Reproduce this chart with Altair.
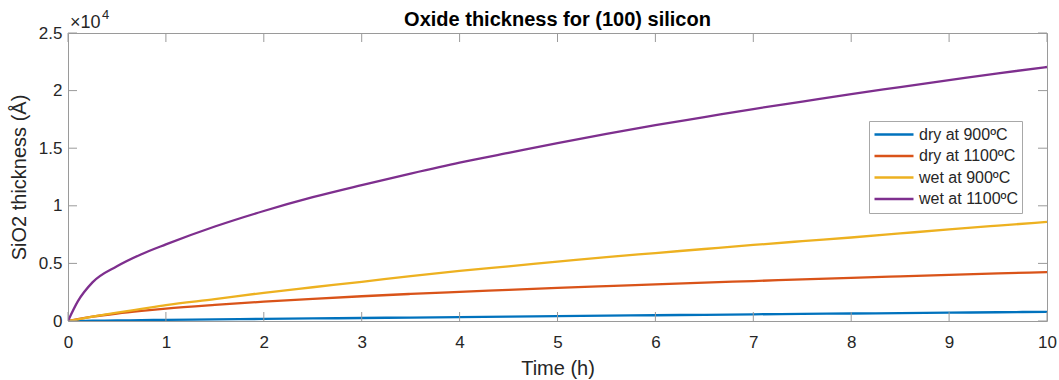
import altair as alt
import pandas as pd

# ---- data (thickness in units of 10^4 Å) ----
time_h = [0, 0.1, 0.25, 0.5, 0.75, 1, 1.5, 2, 2.5, 3, 3.5, 4, 4.5, 5,
          5.5, 6, 6.5, 7, 7.5, 8, 8.5, 9, 9.5, 10]
dry_900 = [0, 0.001, 0.0025, 0.005, 0.0075, 0.010, 0.014, 0.018, 0.022, 0.026,
           0.030, 0.034, 0.038, 0.042, 0.046, 0.050, 0.054, 0.058, 0.062, 0.065,
           0.069, 0.072, 0.076, 0.080]
dry_1100 = [0, 0.016, 0.037, 0.065, 0.088, 0.108, 0.140, 0.168, 0.192, 0.215,
            0.235, 0.253, 0.270, 0.287, 0.303, 0.318, 0.333, 0.347, 0.361, 0.375,
            0.388, 0.400, 0.413, 0.425]
wet_900 = [0, 0.015, 0.037, 0.072, 0.105, 0.138, 0.190, 0.245, 0.293, 0.340,
           0.390, 0.435, 0.475, 0.515, 0.555, 0.590, 0.625, 0.660, 0.693, 0.725,
           0.760, 0.795, 0.828, 0.860]
wet_1100 = [0, 0.170, 0.335, 0.475, 0.580, 0.665, 0.820, 0.955, 1.075, 1.180,
            1.280, 1.375, 1.460, 1.545, 1.625, 1.700, 1.770, 1.840, 1.905, 1.970,
            2.030, 2.090, 2.150, 2.205]

series_names = ["dry at 900ºC", "dry at 1100ºC", "wet at 900ºC", "wet at 1100ºC"]
series_colors = ["#0072BD", "#D95319", "#EDB120", "#7E2F8E"]
x_ticks = [0, 1, 2, 3, 4, 5, 6, 7, 8, 9, 10]
y_ticks = [0, 0.5, 1, 1.5, 2, 2.5]
title_text = "Oxide thickness for (100) silicon"

rows = []
for name, vals in zip(series_names, [dry_900, dry_1100, wet_900, wet_1100]):
    for t, v in zip(time_h, vals):
        rows.append({"time": t, "thickness": v, "series": name})
df = pd.DataFrame(rows)

# ---- layout ----
W, H = 979, 288
XMIN, XMAX = 0, 10
YMIN, YMAX = 0, 2.5
TICK_PX = 9
dx = TICK_PX / W * (XMAX - XMIN)
dy = TICK_PX / H * (YMAX - YMIN)
FONT = "Liberation Sans"
TXT = "#262626"
AXC = "#9a9a9a"

xs = alt.Scale(domain=[XMIN, XMAX], nice=False, zero=False)
ys = alt.Scale(domain=[YMIN, YMAX], nice=False, zero=False)

x_axis = alt.Axis(values=x_ticks, format="d", title="Time (h)",
                  labelFontSize=17, labelColor=TXT, labelFont=FONT,
                  labelPadding=13, labelFlush=False, ticks=False, domain=False,
                  grid=False, titleFontSize=20, titleFont=FONT,
                  titleFontWeight="normal", titleColor=TXT,
                  titleY=53, titleBaseline="alphabetic")
y_axis = alt.Axis(values=y_ticks, format=".1~f", title="SiO2 thickness (Å)",
                  labelFontSize=17, labelColor=TXT, labelFont=FONT,
                  labelPadding=6, labelFlush=False, ticks=False, domain=False,
                  grid=False, titleFontSize=20, titleFont=FONT,
                  titleFontWeight="normal", titleColor=TXT,
                  titleX=-43, titleY=H / 2, titleAngle=270,
                  titleBaseline="alphabetic")

lines = alt.Chart(df).mark_line(strokeWidth=2.3, clip=True, interpolate="monotone").encode(
    x=alt.X("time:Q", scale=xs, axis=x_axis),
    y=alt.Y("thickness:Q", scale=ys, axis=y_axis),
    color=alt.Color("series:N",
                    scale=alt.Scale(domain=series_names, range=series_colors),
                    sort=series_names,
                    legend=alt.Legend(title=None, orient="none", legendX=801, legendY=88,
                                      direction="vertical", symbolType="stroke",
                                      symbolSize=1521, symbolStrokeWidth=2.3,
                                      clipHeight=19, rowPadding=2.5, padding=4,
                                      labelOffset=4, labelFontSize=16, labelFont=FONT,
                                      labelColor=TXT, strokeColor="#a8a8a8",
                                      fillColor="white", cornerRadius=0)),
)

# inward tick marks on all four sides (MATLAB box style)
vt = pd.DataFrame({"time": x_ticks + x_ticks,
                   "thickness": [YMIN] * len(x_ticks) + [YMAX - dy] * len(x_ticks),
                   "y2": [YMIN + dy] * len(x_ticks) + [YMAX] * len(x_ticks)})
ht = pd.DataFrame({"thickness": y_ticks + y_ticks,
                   "time": [XMIN] * len(y_ticks) + [XMAX - dx] * len(y_ticks),
                   "x2": [XMIN + dx] * len(y_ticks) + [XMAX] * len(y_ticks)})

vticks = alt.Chart(vt).mark_rule(color=AXC, strokeWidth=1).encode(
    x=alt.X("time:Q", scale=xs, axis=x_axis),
    y=alt.Y("thickness:Q", scale=ys, axis=y_axis),
    y2="y2:Q",
)
hticks = alt.Chart(ht).mark_rule(color=AXC, strokeWidth=1).encode(
    y=alt.Y("thickness:Q", scale=ys, axis=y_axis),
    x=alt.X("time:Q", scale=xs, axis=x_axis),
    x2="x2:Q",
)

# exponent label "×10^4"
exp_base = alt.Chart(pd.DataFrame({"t": ["×10"]})).mark_text(
    align="left", baseline="alphabetic", fontSize=18, font=FONT, color=TXT
).encode(x=alt.value(2), y=alt.value(-5), text="t:N")
exp_pow = alt.Chart(pd.DataFrame({"t": ["4"]})).mark_text(
    align="left", baseline="alphabetic", fontSize=13, font=FONT, color=TXT
).encode(x=alt.value(34), y=alt.value(-14), text="t:N")

# chart title
title_mark = alt.Chart(pd.DataFrame({"t": [title_text]})).mark_text(
    align="center", baseline="alphabetic", fontSize=20, fontWeight="bold",
    font=FONT, color="black"
).encode(x=alt.value(W / 2), y=alt.value(-7), text="t:N")

chart = alt.layer(lines, vticks, hticks, exp_base, exp_pow, title_mark).properties(
    width=W, height=H,
    autosize=alt.AutoSizeParams(type="none"),
    padding={"left": 68, "top": 33, "right": 12, "bottom": 59},
    background="white",
).configure_view(stroke=AXC, strokeWidth=1)

chart.save("out.html", embed_options={"renderer": "svg", "actions": False})
